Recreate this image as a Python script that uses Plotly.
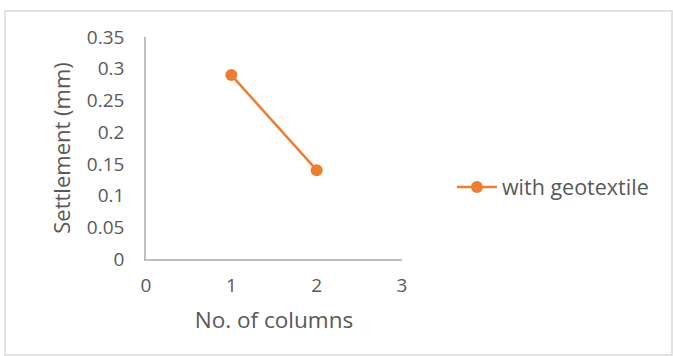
import plotly.graph_objects as go

# Settlement measured against number of stone columns
columns = [1, 2]
settlement_geotextile = [0.29, 0.14]

x_ticks = [0, 1, 2, 3]
y_ticks = [0, 0.05, 0.1, 0.15, 0.2, 0.25, 0.3, 0.35]
y_tick_text = ["0", "0.05", "0.1", "0.15", "0.2", "0.25", "0.3", "0.35"]

orange = "#ED7D31"
text_grey = "#595959"
axis_grey = "#BFBFBF"
font_family = "Open Sans, Liberation Sans, sans-serif"

fig = go.Figure()
fig.add_trace(go.Scatter(
    x=columns,
    y=settlement_geotextile,
    mode="lines+markers",
    name="with geotextile",
    line=dict(color=orange, width=2.5),
    marker=dict(color=orange, size=12),
))

fig.update_layout(
    width=673,
    height=356,
    margin=dict(l=146, r=271, t=37, b=97),
    paper_bgcolor="white",
    plot_bgcolor="white",
    font=dict(family=font_family, color=text_grey, size=19),
    showlegend=True,
    legend=dict(
        x=1.195, y=0.324, xanchor="left", yanchor="middle",
        font=dict(size=21.5, color=text_grey),
        bgcolor="rgba(0,0,0,0)",
        itemwidth=40,
    ),
    xaxis=dict(
        range=[0, 3],
        tickvals=x_ticks,
        tickfont=dict(size=19),
        showgrid=False,
        zeroline=False,
        showline=True,
        linecolor=axis_grey,
        linewidth=1.5,
        ticks="outside",
        ticklen=8,
        tickcolor="rgba(0,0,0,0)",
        title=dict(text="No. of columns", font=dict(size=22.5, color=text_grey), standoff=16),
        fixedrange=True,
    ),
    yaxis=dict(
        range=[0, 0.35],
        tickvals=y_ticks,
        ticktext=y_tick_text,
        tickfont=dict(size=19),
        showgrid=False,
        zeroline=False,
        showline=True,
        linecolor=axis_grey,
        linewidth=1.5,
        ticks="outside",
        ticklen=16,
        tickcolor="rgba(0,0,0,0)",
        title=dict(text="Settlement (mm)", font=dict(size=22, color=text_grey), standoff=10),
        fixedrange=True,
    ),
    shapes=[dict(
        type="rect", xref="paper", yref="paper",
        x0=(5 - 146) / 256, x1=(672 - 146) / 256,
        y0=(259 - 355) / 222, y1=(259 - 11) / 222,
        line=dict(color="#D9D9D9", width=1.5),
        fillcolor="rgba(0,0,0,0)",
        layer="below",
    )],
)

fig.write_html("out.html")
